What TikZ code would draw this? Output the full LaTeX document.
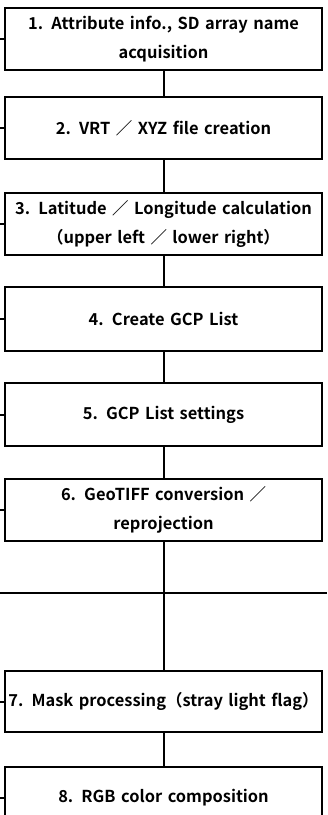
\documentclass[tikz,border=0pt]{standalone}
\usepackage{fontspec}
\setmainfont{Noto Sans CJK JP}[BoldFont={Noto Sans CJK JP Bold}]
\usepackage{tikz}
\usetikzlibrary{%
  positioning,% wg. " of "
  scopes%
}

\tikzset{
  stepbox/.style={draw, line width=2bp, rectangle, minimum width=317bp, minimum height=62bp,
    text width=317bp, align=center, inner sep=0pt, font=\bfseries\fontsize{16.5}{29}\selectfont},
  link/.style={line width=2bp}
}

\begin{document}
\begin{tikzpicture}[x=1bp, y=1bp, node distance=30bp]
    \useasboundingbox (0,0) rectangle (327,-815);
    \coordinate (lft) at (0,0);

    % process chain
    \node[stepbox, anchor=north] (step1) at (163.5,-7) {1. Attribute info., SD array name\\acquisition};
    \node[stepbox] (step2) [below=25bp of step1] {2. VRT ／ XYZ file creation};
    \node[stepbox] (step3) [below=32bp of step2] {3. Latitude ／ Longitude calculation\\（upper left ／ lower right）};
    \node[stepbox, minimum height=64bp] (step4) [below=of step3] {4. Create GCP List};
    \node[stepbox, minimum height=63bp] (step5) [below=of step4] {5. GCP List settings};
    \node[stepbox] (step6) [below=31bp of step5] {6. GeoTIFF conversion ／\\reprojection};
    \node[stepbox, minimum height=61bp] (step7) [below=128bp of step6] {7. Mask processing（stray light flag）};
    \node[stepbox, minimum height=61bp] (step8) [below=33bp of step7] {8. RGB color composition};

    % cut line
    \coordinate (cutl) at (0,-593);
    \coordinate (cutr) at (327,-593);
    \draw[link] (cutl) -- (cutr);

    \foreach \i [count=\j from 2] in {1,...,7}
      \draw[link] (step\i.south) -- (step\j.north);

    % stubs on the left
    \foreach \i in {1,...,8}
      \draw[link] (step\i.west) -- (step\i.west -| lft);
\end{tikzpicture}
\end{document}
